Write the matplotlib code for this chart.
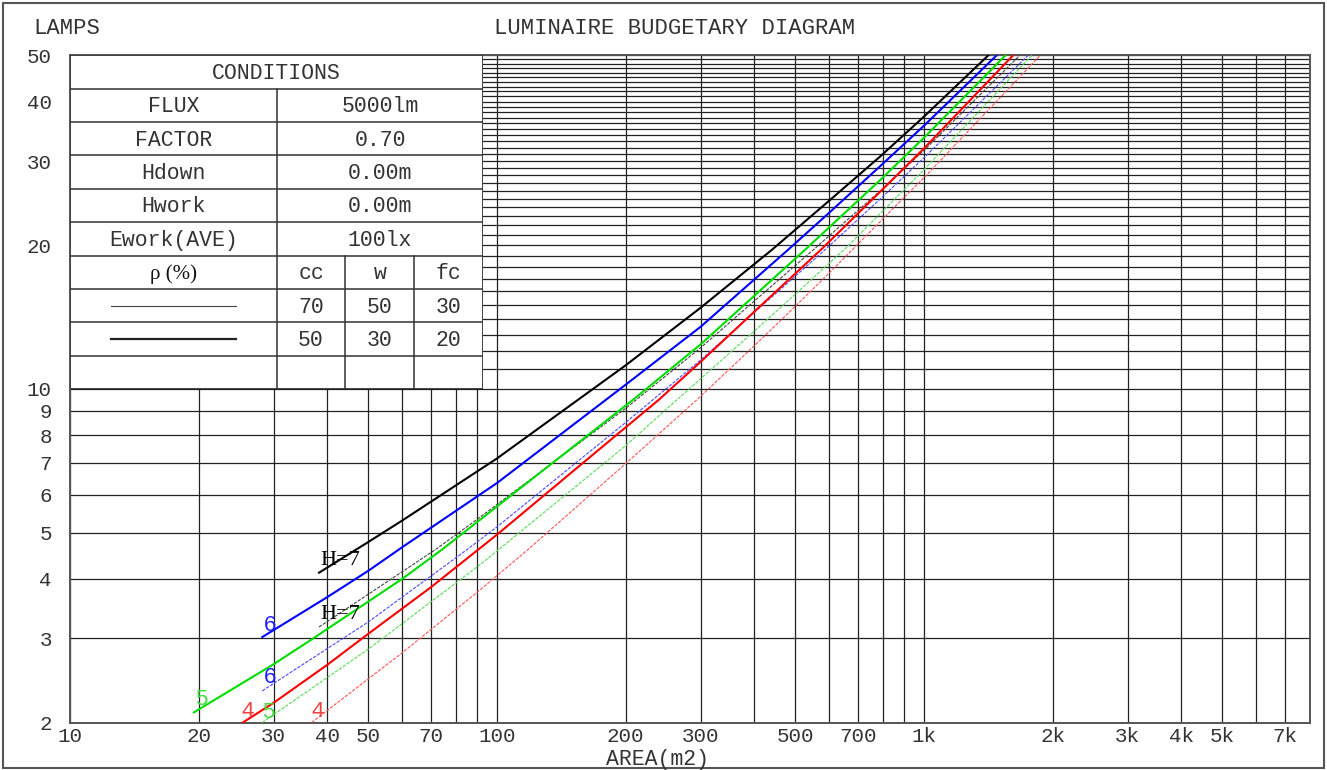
import matplotlib
matplotlib.use('Agg')
import matplotlib.pyplot as plt
from matplotlib.patches import Rectangle
from matplotlib.ticker import FixedLocator, FixedFormatter, NullFormatter

# ---------------- data ----------------
# thick curves: reflectance cc/w/fc = 50/30/20
thick_h7_x = [38.3, 50, 60, 100, 200, 300, 440, 600, 790, 1000, 1415]
thick_h7_y = [4.12, 4.78, 5.3, 7.15, 11.2, 14.8, 19.55, 24.8, 30.7, 37.2, 50]
thick_h6_x = [28.2, 40, 50, 60, 100, 200, 300, 480, 600, 790, 1000, 1480]
thick_h6_y = [3.02, 3.66, 4.16, 4.66, 6.35, 10.2, 13.5, 19.55, 23.4, 29.3, 35.6, 50]
thick_h5_x = [19.5, 30, 37.1, 60, 74.2, 100, 208, 300, 526, 790, 1000, 1552]
thick_h5_y = [2.10, 2.65, 3.0, 4.0, 4.6, 5.67, 9.48, 12.4, 19.55, 27.4, 33.6, 50]
thick_h4_x = [25.4, 30, 40, 50, 70, 100, 150, 239, 300, 400, 573, 790, 1000, 1617]
thick_h4_y = [2.0, 2.2, 2.64, 3.07, 3.84, 4.95, 6.7, 9.48, 11.4, 14.5, 19.55, 25.9, 31.9, 50]

# thin curves: reflectance cc/w/fc = 70/50/30
thin_h7_x = [38.3, 71.6, 89.6, 200, 300, 550, 790, 1000, 1677]
thin_h7_y = [3.17, 4.6, 5.32, 9.1, 12.2, 19.55, 26.0, 31.6, 50]
thin_h6_x = [28.2, 50, 84.9, 100, 200, 300, 586, 790, 1000, 1753]
thin_h6_y = [2.33, 3.25, 4.6, 5.14, 8.5, 11.5, 19.55, 25.0, 30.5, 50]
thin_h5_x = [28.2, 50, 91.2, 100.7, 200, 263.6, 400, 500, 659, 790, 1000, 1789]
thin_h5_y = [2.0, 2.85, 4.28, 4.6, 7.6, 9.48, 13.2, 15.8, 19.8, 23.3, 28.8, 50]
thin_h4_x = [36.8, 60, 91.2, 118, 200, 293.6, 400, 500, 600, 700, 871, 1000, 1872]
thin_h4_y = [2.0, 2.8, 3.79, 4.6, 6.97, 9.48, 12.3, 14.9, 17.5, 20.1, 24.5, 27.7, 50]

x_major = [10, 20, 30, 40, 50, 70, 100, 200, 300, 500, 700, 1000, 2000, 3000, 4000, 5000, 7000]
x_labels = ['10', '20', '30', '40', '50', '70', '100', '200', '300', '500', '700',
            '1k', '2k', '3k', '4k', '5k', '7k']
x_minor = [60, 80, 90, 400, 600, 800, 900, 6000]
y_major = [2, 3, 4, 5, 6, 7, 8, 9, 10, 20, 30, 40, 50]
y_labels = ['2', '3', '4', '5', '6', '7', '8', '9', '10', '20', '30', '40', '50']
y_minor = [v for v in range(11, 50) if v not in (20, 30, 40)]

cond_labels = ['FLUX', 'FACTOR', 'Hdown', 'Hwork', 'Ework(AVE)']
cond_values = ['5000lm', '0.70', '0.00m', '0.00m', '100lx']
refl_header = ['cc', 'w', 'fc']
refl_thin = ['70', '50', '30']
refl_thick = ['50', '30', '20']

# ---------------- figure ----------------
W, H = 1327, 770
fig = plt.figure(figsize=(W / 100, H / 100), dpi=100)
MONO = 'Liberation Mono'
TXT = '#333333'
GRID = '#222222'

L, R, T, B = 70, 1309.6, 55.3, 722.5
ax = fig.add_axes([L / W, 1 - B / H, (R - L) / W, (B - T) / H])
ax.set_xscale('log')
ax.set_yscale('log')
ax.set_xlim(10, 8000)
ax.set_ylim(2, 50)

ax.xaxis.set_major_locator(FixedLocator(x_major))
ax.xaxis.set_major_formatter(FixedFormatter(x_labels))
ax.xaxis.set_minor_locator(FixedLocator(x_minor))
ax.xaxis.set_minor_formatter(NullFormatter())
ax.yaxis.set_major_locator(FixedLocator(y_major))
ax.yaxis.set_major_formatter(FixedFormatter(y_labels))
ax.yaxis.set_minor_locator(FixedLocator(y_minor))
ax.yaxis.set_minor_formatter(NullFormatter())
ax.grid(which='both', color=GRID, lw=0.9)
ax.set_axisbelow(True)
ax.tick_params(which='both', length=0)
ax.tick_params(axis='x', pad=3)
ax.tick_params(axis='y', pad=13)
for lab in ax.get_xticklabels() + ax.get_yticklabels():
    lab.set_fontfamily(MONO)
    lab.set_fontsize(15)
    lab.set_color(TXT)
for s in ax.spines.values():
    s.set_color('#555555')
    s.set_linewidth(1.4)

thin_ls = (0, (3, 1.2))
ax.plot(thin_h7_x, thin_h7_y, color='#444444', lw=0.8, ls=thin_ls, zorder=3)
ax.plot(thin_h6_x, thin_h6_y, color='#4a4aff', lw=0.8, ls=thin_ls, zorder=3)
ax.plot(thin_h5_x, thin_h5_y, color='#55dd55', lw=0.8, ls=thin_ls, zorder=3)
ax.plot(thin_h4_x, thin_h4_y, color='#ff5555', lw=0.8, ls=thin_ls, zorder=3)
ax.plot(thick_h7_x, thick_h7_y, color='#000000', lw=1.5, zorder=4)
ax.plot(thick_h6_x, thick_h6_y, color='#0000ff', lw=1.5, zorder=4)
ax.plot(thick_h5_x, thick_h5_y, color='#00dd00', lw=1.5, zorder=4)
ax.plot(thick_h4_x, thick_h4_y, color='#ff0000', lw=1.5, zorder=4)

# curve labels
SERIF = 'Liberation Serif'
SANS = 'Liberation Sans'
ax.text(38.5, 4.38, 'H=7', family=SERIF, fontsize=16, color='black', ha='left', va='center', zorder=5)
ax.text(38.5, 3.36, 'H=7', family=SERIF, fontsize=16, color='black', ha='left', va='center', zorder=5)
ax.text(29.4, 3.20, '6', family=SANS, fontsize=16, color='#2020ff', ha='center', va='center', zorder=5)
ax.text(29.4, 2.48, '6', family=SANS, fontsize=16, color='#2020ff', ha='center', va='center', zorder=5)
ax.text(20.3, 2.23, '5', family=SANS, fontsize=16, color='#44dd44', ha='center', va='center', zorder=5)
ax.text(29.1, 2.10, '5', family=SANS, fontsize=16, color='#44dd44', ha='center', va='center', zorder=5)
ax.text(26.1, 2.11, '4', family=SANS, fontsize=16, color='#ee4444', ha='center', va='center', zorder=5)
ax.text(38.1, 2.11, '4', family=SANS, fontsize=16, color='#ee4444', ha='center', va='center', zorder=5)

# ---------------- conditions table ----------------
TR, TB = 483.3, 389.0
tab = fig.add_axes([L / W, 1 - TB / H, (TR - L) / W, (TB - T) / H])
tab.set_xlim(L, TR)
tab.set_ylim(TB, T)
tab.axis('off')
tab.add_patch(Rectangle((L, T), TR - L, TB - T, facecolor='white', edgecolor='#333333', lw=1.3))
rh = (TB - T) / 10
c1, c2, c3 = 276.7, 345.3, 414.3
lc = '#333333'
for i in range(1, 10):
    tab.plot([L, TR], [T + i * rh] * 2, color=lc, lw=1.1)
tab.plot([c1, c1], [T + rh, TB], color=lc, lw=1.1)
for cx in (c2, c3):
    tab.plot([cx, cx], [T + 6 * rh, TB], color=lc, lw=1.1)

def rc(i):
    return T + (i + 0.5) * rh + 1.5

fs = 15.5
tab.text((L + TR) / 2, rc(0), 'CONDITIONS', family=MONO, fontsize=fs, color=TXT, ha='center', va='center')
for i, (lab, val) in enumerate(zip(cond_labels, cond_values)):
    tab.text((L + c1) / 2, rc(i + 1), lab, family=MONO, fontsize=fs, color=TXT, ha='center', va='center')
    tab.text((c1 + TR) / 2, rc(i + 1), val, family=MONO, fontsize=fs, color=TXT, ha='center', va='center')
sub_c = [(c1 + c2) / 2, (c2 + c3) / 2, (c3 + TR) / 2]
tab.text((L + c1) / 2, rc(6), 'ρ (%)', family=SERIF, fontsize=15, color='#111111', ha='center', va='center')
for cx, a, b, c in zip(sub_c, refl_header, refl_thin, refl_thick):
    tab.text(cx, rc(6), a, family=MONO, fontsize=fs, color=TXT, ha='center', va='center')
    tab.text(cx, rc(7), b, family=MONO, fontsize=fs, color=TXT, ha='center', va='center')
    tab.text(cx, rc(8), c, family=MONO, fontsize=fs, color=TXT, ha='center', va='center')
tab.plot([111, 235.7], [T + 7.5 * rh] * 2, color='#444444', lw=0.8)
tab.plot([111, 235.7], [T + 8.5 * rh] * 2, color='#222222', lw=1.6)

# ---------------- frame texts ----------------
fig.text(33 / W, 1 - 29 / H, 'LAMPS', family=MONO, fontsize=16, color=TXT, ha='left', va='center')
fig.text(675 / W, 1 - 29 / H, 'LUMINAIRE BUDGETARY DIAGRAM', family=MONO, fontsize=16,
         color=TXT, ha='center', va='center')
fig.text(658 / W, 1 - 759 / H, 'AREA(m2)', family=MONO, fontsize=15.5, color=TXT, ha='center', va='center')
fig.add_artist(Rectangle((3 / W, 2 / H), 1321 / W, 765 / H, transform=fig.transFigure,
                         facecolor='none', edgecolor='#555555', lw=1.5))

fig.savefig('out.png', dpi=100)
